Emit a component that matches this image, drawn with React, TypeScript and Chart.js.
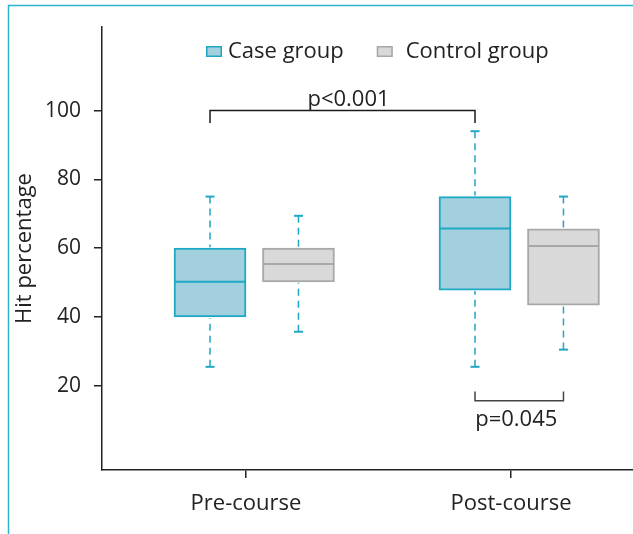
import React, { useEffect, useRef } from 'react';
import { Chart, registerables } from 'chart.js';

Chart.register(...registerables);

// ---------- data ----------
const categories = ['Pre-course', 'Post-course'];
const seriesNames = ['Case group', 'Control group'];

const caseMin = [25.5, 25.5];
const caseQ1 = [40, 47.8];
const caseMedian = [50.2, 65.7];
const caseQ3 = [60, 75];
const caseMax = [75, 94];

const controlMin = [35.7, 30.5];
const controlQ1 = [50.2, 43.4];
const controlMedian = [55.4, 60.6];
const controlQ3 = [60, 65.6];
const controlMax = [69.4, 75];

const yTicks = [20, 40, 60, 80, 100];

// significance brackets
const pLabels = ['p<0.001', 'p=0.045'];
const pLevels = [100, 15.6];
const pTips = [96.4, 18.3];
const pFromSeries = [0, 0];
const pFromCat = [0, 1];
const pToSeries = [0, 1];
const pToCat = [1, 1];

// ---------- styles ----------
const FONT = "'Open Sans', 'Noto Sans', sans-serif";
const TEXT = '#222222';
const TEAL = '#1fa8c4';
const CASE_FILL = '#a3d0de';
const CTRL_FILL = '#d9d9d9';
const CTRL_BORDER = '#a8a8a8';
const FRAME = '#2bb4cd';
const OFFSETS = [-0.1358, 0.198]; // box centre relative to category tick (category units)

const boxPlugin = {
  id: 'boxExtras',
  beforeDraw(chart: any) {
    const c = chart.ctx;
    c.save();
    c.strokeStyle = FRAME;
    c.lineWidth = 1.5;
    c.beginPath();
    c.moveTo(8.5, chart.height);
    c.lineTo(8.5, 5.5);
    c.lineTo(chart.width, 5.5);
    c.stroke();
    c.restore();
  },
  afterDatasetsDraw(chart: any) {
    const c = chart.ctx;
    const ys = chart.scales.y;
    const groups = [
      { min: caseMin, med: caseMedian, q1: caseQ1, q3: caseQ3, max: caseMax, medColor: TEAL },
      { min: controlMin, med: controlMedian, q1: controlQ1, q3: controlQ3, max: controlMax, medColor: CTRL_BORDER },
    ];
    const line = (x1: number, y1: number, x2: number, y2: number) => {
      c.beginPath();
      c.moveTo(x1, y1);
      c.lineTo(x2, y2);
      c.stroke();
    };
    c.save();
    groups.forEach((g, s) => {
      const meta = chart.getDatasetMeta(s);
      categories.forEach((_, i) => {
        const el = meta.data[i];
        const cx = el.x;
        const hw = el.width / 2;
        const yMax = ys.getPixelForValue(g.max[i]);
        const yMin = ys.getPixelForValue(g.min[i]);
        const yQ1 = ys.getPixelForValue(g.q1[i]);
        const yQ3 = ys.getPixelForValue(g.q3[i]);
        const yMed = ys.getPixelForValue(g.med[i]);
        c.strokeStyle = TEAL;
        c.lineWidth = 1.5;
        c.setLineDash([7, 5]);
        line(cx, yMax, cx, yQ3 - 1);
        line(cx, yMin, cx, yQ1 + 1);
        c.setLineDash([]);
        c.lineWidth = 2;
        line(cx - 4.5, yMax, cx + 4.5, yMax);
        line(cx - 4.5, yMin, cx + 4.5, yMin);
        c.strokeStyle = g.medColor;
        c.lineWidth = 2;
        line(cx - hw + 1, yMed, cx + hw - 1, yMed);
      });
    });

    // brackets
    c.font = `22px ${FONT}`;
    c.textAlign = 'center';
    c.textBaseline = 'alphabetic';
    pLabels.forEach((lab, k) => {
      const x1 = chart.getDatasetMeta(pFromSeries[k]).data[pFromCat[k]].x;
      const x2 = chart.getDatasetMeta(pToSeries[k]).data[pToCat[k]].x;
      const yL = ys.getPixelForValue(pLevels[k]);
      const yT = ys.getPixelForValue(pTips[k]);
      c.strokeStyle = k === 0 ? '#1a1a1a' : '#444444';
      c.lineWidth = 1.5;
      c.beginPath();
      c.moveTo(x1, yT);
      c.lineTo(x1, yL);
      c.lineTo(x2, yL);
      c.lineTo(x2, yT);
      c.stroke();
      c.fillStyle = TEXT;
      const mid = (x1 + x2) / 2;
      if (pTips[k] < pLevels[k]) {
        c.fillText(lab, mid + 6, yL - 5);
      } else {
        c.fillText(lab, mid - 3, yL + 25);
      }
    });
    c.restore();
  },
  afterDraw(chart: any) {
    // legend
    const c = chart.ctx;
    c.save();
    c.font = `22px ${FONT}`;
    c.textBaseline = 'middle';
    c.textAlign = 'left';
    const fills = [CASE_FILL, CTRL_FILL];
    const borders = [TEAL, CTRL_BORDER];
    const gaps = [6, 13];
    let x = 206;
    const yc = 51.5;
    seriesNames.forEach((name, k) => {
      c.fillStyle = fills[k];
      c.fillRect(x, yc - 5.5, 16, 11);
      c.strokeStyle = borders[k];
      c.lineWidth = 1.5;
      c.strokeRect(x + 0.75, yc - 5.5 + 0.75, 14.5, 9.5);
      const tx = x + 16 + gaps[k];
      c.fillStyle = TEXT;
      c.fillText(name, tx, yc);
      x = tx + c.measureText(name).width + 33;
    });
    c.restore();
  },
};

export default function App() {
  const ref = useRef<HTMLCanvasElement>(null);
  useEffect(() => {
    const canvas = ref.current;
    if (!canvas) return;
    const cats = categories.map((_, i) => i + 1);
    const mk = (q1: number[], q3: number[], off: number) =>
      cats.map((v, i) => ({ x: v + off, y: [q1[i], q3[i]] }));
    const chart = new Chart(canvas, {
      type: 'bar',
      data: {
        datasets: [
          {
            label: seriesNames[0],
            data: mk(caseQ1, caseQ3, OFFSETS[0]) as any,
            backgroundColor: CASE_FILL,
            borderColor: TEAL,
            borderWidth: 2,
            borderSkipped: false,
            grouped: false,
            maxBarThickness: 72,
            barPercentage: 1,
            categoryPercentage: 1,
          },
          {
            label: seriesNames[1],
            data: mk(controlQ1, controlQ3, OFFSETS[1]) as any,
            backgroundColor: CTRL_FILL,
            borderColor: CTRL_BORDER,
            borderWidth: 2,
            borderSkipped: false,
            grouped: false,
            maxBarThickness: 72,
            barPercentage: 1,
            categoryPercentage: 1,
          },
        ],
      },
      options: {
        animation: false,
        responsive: true,
        maintainAspectRatio: false,
        layout: { padding: { top: 27, left: 0, right: 0, bottom: 0 } },
        font: { family: FONT },
        plugins: { legend: { display: false }, tooltip: { enabled: false } },
        scales: {
          x: {
            type: 'linear',
            min: 1 - 144 / 265,
            max: 2 + 122 / 265,
            offset: false,
            afterBuildTicks: (s: any) => {
              s.ticks = cats.map((v) => ({ value: v }));
            },
            afterFit: (s: any) => {
              s.height = 64;
            },
            ticks: {
              callback: (v: any) => categories[Math.round(Number(v)) - 1] ?? '',
              font: { family: FONT, size: 22 },
              color: TEXT,
              padding: 13,
              maxRotation: 0,
              autoSkip: false,
            },
            grid: { drawOnChartArea: false, drawTicks: true, tickLength: 8, color: TEXT, lineWidth: 1.5, offset: false },
            border: { display: true, color: TEXT, width: 1.5 },
          },
          y: {
            min: -4.5,
            max: 124.3,
            afterBuildTicks: (s: any) => {
              s.ticks = yTicks.map((v) => ({ value: v }));
            },
            afterFit: (s: any) => {
              s.width = 102;
            },
            ticks: { font: { family: FONT, size: 21 }, color: TEXT, padding: 13 },
            grid: { drawOnChartArea: false, drawTicks: true, tickLength: 8, color: TEXT, lineWidth: 1.5 },
            border: { display: true, color: TEXT, width: 1.5 },
            title: {
              display: true,
              text: 'Hit percentage',
              font: { family: FONT, size: 22 },
              color: TEXT,
              padding: { top: 12, bottom: 0 },
            },
          },
        },
      } as any,
      plugins: [boxPlugin],
    });
    return () => chart.destroy();
  }, []);

  return (
    <div style={{ position: 'absolute', left: 0, top: 0, width: 633, height: 534 }}>
      <canvas ref={ref} />
    </div>
  );
}
